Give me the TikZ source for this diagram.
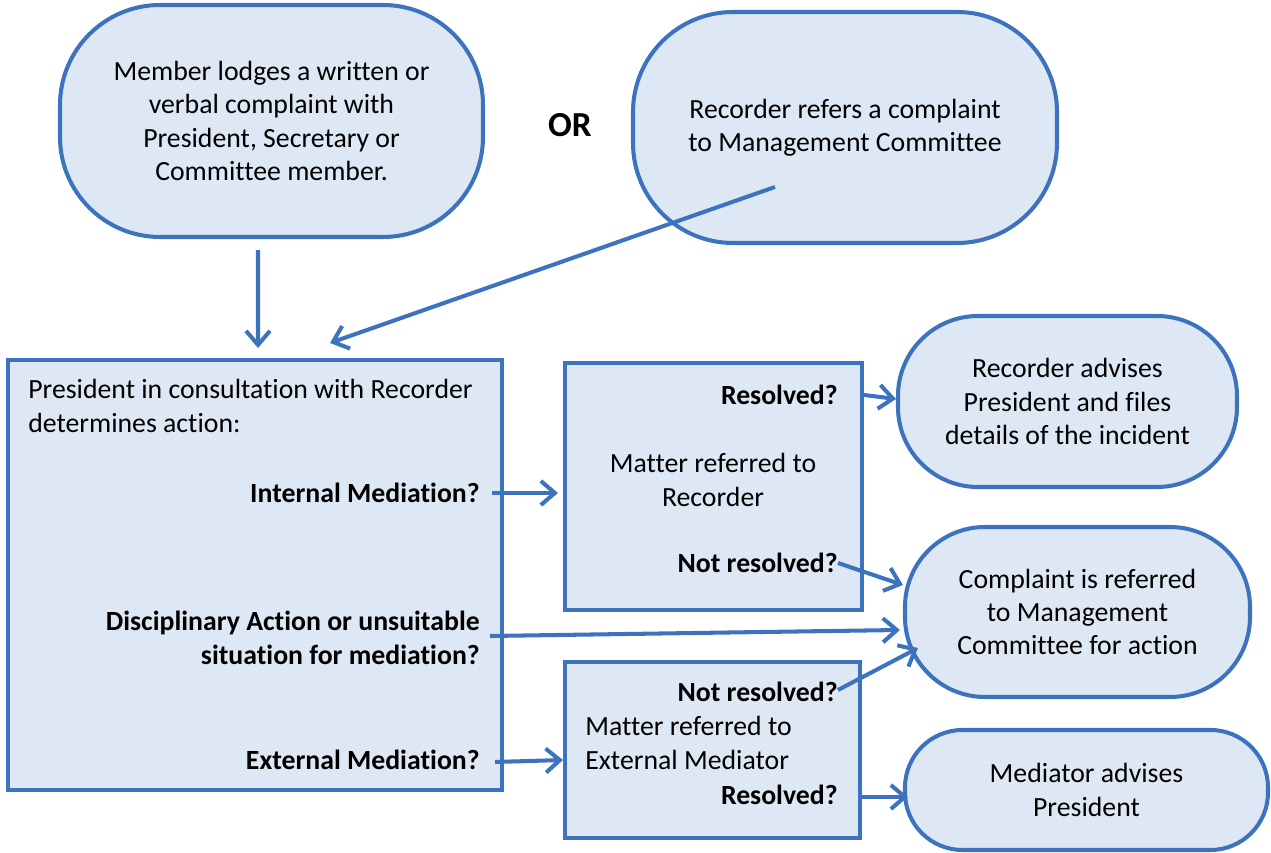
\documentclass[tikz,border=0pt]{standalone}
\usepackage{fontspec}
\setmainfont{Carlito}[Ligatures=NoCommon]
\usetikzlibrary{arrows.meta,calc}
\definecolor{boxblue}{RGB}{61,115,190}
\definecolor{boxfill}{RGB}{222,232,244}
\tikzset{
  flowbox/.style={draw=boxblue, fill=boxfill, line width=2.3pt, inner sep=0pt,
    align=center, font=\fontsize{15.8}{19}\selectfont},
  roundbox/.style={flowbox, rounded corners=#1},
  txt/.style={inner sep=0pt, font=\fontsize{15.8}{19}\selectfont},
  lbl/.style={inner sep=0pt, align=right, font=\bfseries\fontsize{15.8}{19}\selectfont},
  arr/.style={draw=boxblue, line width=2.3pt, -{Straight Barb[length=2.8mm,width=4.8mm]}},
}
\begin{document}
\begin{tikzpicture}
  \useasboundingbox (0,0) rectangle (25.42,17.06);
  % top row
  \node[roundbox=2cm, minimum width=8.46cm, minimum height=4.64cm] (member) at (5.43,14.64)
    {Member lodges a written or\\verbal complaint with\\President, Secretary or\\Committee member.};
  \node[roundbox=2cm, minimum width=8.48cm, minimum height=4.62cm] (rec) at (16.9,14.51)
    {Recorder refers a complaint\\to Management Committee};
  \node[inner sep=0pt, font=\bfseries\fontsize{20}{24}\selectfont] (or) at (11.4,14.56) {OR};

  % president box
  \node[flowbox, minimum width=9.88cm, minimum height=8.6cm] (pres) at (5.1,5.56) {};
  \node[txt, align=left, anchor=west] (prestxt) at (0.56,8.94)
    {President in consultation with Recorder\\determines action:};
  \node[lbl, anchor=east] (intmed) at (9.6,7.2) {Internal Mediation?};
  \node[lbl, anchor=east] (discip) at (9.6,4.3) {Disciplinary Action or unsuitable\\situation for mediation?};
  \node[lbl, anchor=east] (extmed) at (9.6,1.86) {External Mediation?};

  % middle boxes
  \node[flowbox, minimum width=5.94cm, minimum height=4.94cm] (rect1) at (14.27,7.33) {};
  \node[lbl, anchor=east] (res1) at (16.76,9.16) {Resolved?};
  \node[txt, align=center] (matter1) at (14.26,7.46) {Matter referred to\\Recorder};
  \node[lbl, anchor=east] (notres1) at (16.76,5.8) {Not resolved?};

  \node[flowbox, minimum width=5.9cm, minimum height=3.52cm] (rect2) at (14.25,2.06) {};
  \node[lbl, anchor=east] (notres2) at (16.76,3.22) {Not resolved?};
  \node[txt, align=left, anchor=west] (matter2) at (11.7,2.2) {Matter referred to\\External Mediator};
  \node[lbl, anchor=east] (res2) at (16.76,1.16) {Resolved?};

  % right column
  \node[roundbox=1.6cm, minimum width=6.78cm, minimum height=3.42cm] (adv) at (21.35,9.03)
    {Recorder advises\\President and files\\details of the incident};
  \node[roundbox=1.6cm, minimum width=6.9cm, minimum height=3.4cm] (mgmt) at (21.55,4.82)
    {Complaint is referred\\to Management\\Committee for action};
  \node[roundbox=1.15cm, minimum width=7.26cm, minimum height=2.4cm] (medadv) at (21.73,1.26)
    {Mediator advises\\President};

  % connectors
  \draw[arr] ([xshift=-0.27cm,yshift=-0.22cm]member.south) -- ([xshift=0.06cm,yshift=0.2cm]pres.north);
  \draw[arr] ($(rec.center)+(-1.4,-1.19)$) -- ([xshift=1.5cm,yshift=0.3cm]pres.north);
  \draw[arr] ([xshift=0.24cm]intmed.east) -- ($(intmed.east -| rect1.west)+(-0.1,0)$);
  \draw[arr] (res1.east -| rect1.east) -- ($(res1.east -| adv.west)+(0,-0.08)$);
  \draw[arr] (notres1.east) -- ($(mgmt.west)+(0,0.54)$);
  \draw[arr] ([xshift=0.2cm,yshift=0.04cm]discip.east) -- ($(mgmt.west)+(-0.06,-0.36)$);
  \draw[arr] ([yshift=0.04cm]notres2.east) -- ($(mgmt.west)+(0.3,-0.72)$);
  \draw[arr] ([xshift=0.3cm,yshift=-0.04cm]extmed.east) -- ($(rect2.west)+(0,-0.2)$);
  \draw[arr] ([yshift=-0.04cm]res2.east -| rect2.east) -- ($(res2.east -| medadv.west)+(0.1,-0.04)$);
\end{tikzpicture}
\end{document}
